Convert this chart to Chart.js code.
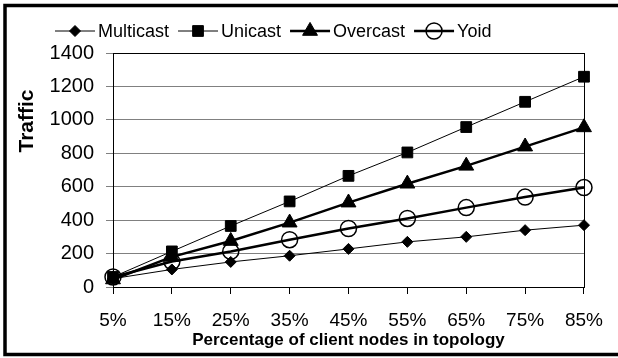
<!DOCTYPE html>
<html><head><meta charset="utf-8">
<script src="https://cdn.jsdelivr.net/npm/chart.js@4/dist/chart.umd.min.js"></script>
<style>html,body{margin:0;padding:0;background:#fff}#wrap{width:618px;height:358px;position:relative}</style>
</head><body><div id="wrap"><canvas id="c"></canvas></div>
<script>
const categories = ['5%','15%','25%','35%','45%','55%','65%','75%','85%'];
const multicast = [50,105,150,187,228,270,300,340,370];
const unicast   = [60,213,365,512,665,805,957,1108,1258];
const overcast  = [45,180,275,385,505,618,725,840,955];
const yoid      = [60,152,213,283,350,410,475,538,595];
const yMin = 0, yMax = 1400, yStep = 200;
const seriesNames = ['Multicast','Unicast','Overcast','Yoid'];
const yTitle = 'Traffic';
const xTitle = 'Percentage of client nodes in topology';

const FONT = '"Liberation Sans", Arial, sans-serif';

function drawMarker(ctx, style, r, x, y, fill, bw){
  ctx.save();
  ctx.beginPath();
  if (style === 'rectRot') {
    ctx.moveTo(x, y - r); ctx.lineTo(x + r, y); ctx.lineTo(x, y + r); ctx.lineTo(x - r, y); ctx.closePath();
  } else if (style === 'rect') {
    const s = r * Math.SQRT1_2; ctx.rect(x - s, y - s, 2*s, 2*s);
  } else if (style === 'triangle') {
    for (let i=0;i<3;i++){ const a = i*2*Math.PI/3; const px = x + Math.sin(a)*r, py = y - Math.cos(a)*r; i?ctx.lineTo(px,py):ctx.moveTo(px,py);} ctx.closePath();
  } else {
    ctx.arc(x, y, r, 0, Math.PI*2);
  }
  if (fill) { ctx.fillStyle = '#000'; ctx.fill(); }
  ctx.lineWidth = bw; ctx.strokeStyle = '#000'; ctx.stroke();
  ctx.restore();
}

const styles = [
  {pointStyle:'rectRot', r:5.5, lw:1, fill:true, bw:1},
  {pointStyle:'rect', r:7.6, lw:1, fill:true, bw:1},
  {pointStyle:'triangle', r:8.6, lw:2.5, fill:true, bw:1},
  {pointStyle:'circle', r:8, lw:2.5, fill:false, bw:1.5}
];
const seriesData = [multicast, unicast, overcast, yoid];

const datasets = seriesData.map((d,i)=>({
  label: seriesNames[i],
  data: d,
  borderColor: '#000',
  borderWidth: styles[i].lw,
  backgroundColor: styles[i].fill ? '#000' : 'rgba(0,0,0,0)',
  pointStyle: styles[i].pointStyle,
  pointRadius: styles[i].r,
  pointHoverRadius: styles[i].r,
  pointBorderColor: '#000',
  pointBackgroundColor: styles[i].fill ? '#000' : 'rgba(0,0,0,0)',
  pointBorderWidth: styles[i].bw,
  tension: 0,
  fill: false
}));

const decor = {
  id: 'decor',
  beforeDraw(chart){
    const ctx = chart.ctx;
    ctx.save(); ctx.fillStyle = '#fff'; ctx.fillRect(0,0,chart.width,chart.height); ctx.restore();
  },
  afterDraw(chart){
    const ctx = chart.ctx, a = chart.chartArea;
    ctx.save();
    ctx.strokeStyle = '#000'; ctx.lineWidth = 1;
    ctx.strokeRect(Math.round(a.left)+0.5, Math.round(a.top)+0.5, Math.round(a.right-a.left), Math.round(a.bottom-a.top));
    ctx.lineWidth = 3.5;
    ctx.strokeRect(5, 5.5, 700, 349);
    ctx.font = '18px ' + FONT; ctx.textBaseline = 'middle'; ctx.fillStyle = '#000';
    let x = 55; const ly = 31;
    seriesNames.forEach((n,i)=>{
      const st = styles[i];
      ctx.beginPath(); ctx.lineWidth = st.lw; ctx.moveTo(x, ly); ctx.lineTo(x+40, ly); ctx.stroke();
      drawMarker(ctx, st.pointStyle, st.r, x+20, ly, st.fill, st.bw);
      x += 43;
      ctx.fillText(n, x, ly+1);
      x += ctx.measureText(n).width + 9;
    });
    ctx.font = 'bold 17px ' + FONT; ctx.textAlign = 'center'; ctx.textBaseline = 'alphabetic';
    ctx.fillText(xTitle, (a.left + a.right)/2, 345);
    ctx.save();
    ctx.translate(33, 121); ctx.rotate(-Math.PI/2);
    ctx.font = 'bold 21px ' + FONT;
    ctx.fillText(yTitle, 0, 0);
    ctx.restore();
    ctx.restore();
  }
};

new Chart(document.getElementById('c'), {
  type: 'line',
  data: { labels: categories, datasets },
  plugins: [decor],
  options: {
    responsive: true, maintainAspectRatio: false, animation: false,
    layout: { padding: { left: 0, top: 53, right: 23, bottom: 0 } },
    plugins: { legend: { display: false }, tooltip: { enabled: false } },
    scales: {
      x: {
        offset: false,
        afterFit(s){ s.height = 71; },
        grid: { drawOnChartArea: false, drawTicks: true, tickLength: 7, color: '#000' },
        border: { color: '#000', width: 1 },
        ticks: { color: '#000', font: { family: FONT, size: 19 }, padding: 15, maxRotation: 0, autoSkip: false }
      },
      y: {
        min: yMin, max: yMax,
        afterFit(s){ s.width = 113; },
        grid: { color: '#808080', lineWidth: 1, tickLength: 7 },
        border: { color: '#000', width: 1 },
        ticks: { stepSize: yStep, color: '#000', font: { family: FONT, size: 20 }, padding: 12, callback: v => String(v) }
      }
    }
  }
});
</script></body></html>
